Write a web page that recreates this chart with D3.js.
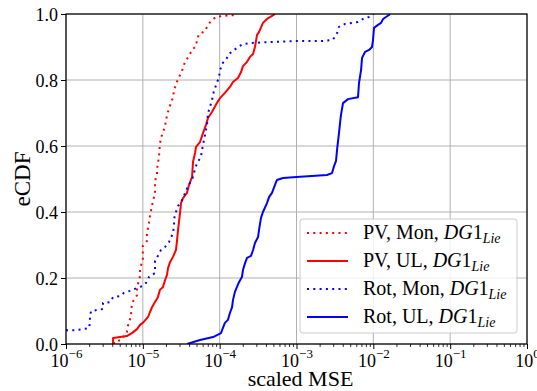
<!DOCTYPE html>
<html>
<head>
<meta charset="utf-8">
<script src="https://cdn.jsdelivr.net/npm/d3@7"></script>
<style>
  body { margin: 0; background: #fff; }
  svg text { font-family: "Liberation Serif", "DejaVu Serif", serif; fill: #000; }
</style>
</head>
<body>
<svg id="chart" width="537" height="391"></svg>
<script>
// eCDF of scaled MSE: [mse, cumulative fraction]
var pvMon = [[4.2e-6,0],[4.2e-6,0.006],[5.2e-6,0.012],[6.2e-6,0.036],[6.4e-6,0.055],[7.0e-6,0.085],[7.2e-6,0.124],
  [8.4e-6,0.148],[8.4e-6,0.170],[9.2e-6,0.206],[9.2e-6,0.227],[1.0e-5,0.258],[1.0e-5,0.297],[1.13e-5,0.312],
  [1.13e-5,0.333],[1.2e-5,0.367],[1.24e-5,0.388],[1.32e-5,0.421],[1.44e-5,0.458],[1.44e-5,0.494],[1.53e-5,0.515],
  [1.53e-5,0.530],[1.62e-5,0.567],[1.67e-5,0.606],[1.72e-5,0.624],[1.83e-5,0.642],[1.95e-5,0.661],[2.0e-5,0.679],
  [2.19e-5,0.715],[2.33e-5,0.730],[2.47e-5,0.748],[2.55e-5,0.770],[2.87e-5,0.803],[3.14e-5,0.821],[3.33e-5,0.836],
  [3.54e-5,0.855],[3.99e-5,0.873],[4.37e-5,0.891],[4.92e-5,0.903],[5.07e-5,0.921],[5.38e-5,0.939],[6.44e-5,0.948],
  [6.84e-5,0.961],[7.7e-5,0.979],[8.96e-5,0.991],[1.07e-4,0.994],[1.63e-4,0.997],[1.7e-4,1.0]];

var pvUL = [[4.1e-6,0],[4.1e-6,0.018],[6.2e-6,0.024],[7.2e-6,0.033],[8.4e-6,0.045],[9.2e-6,0.058],[1.0e-5,0.064],
  [1.17e-5,0.082],[1.24e-5,0.097],[1.32e-5,0.112],[1.44e-5,0.127],[1.57e-5,0.142],[1.67e-5,0.164],[1.83e-5,0.173],
  [1.95e-5,0.194],[2.06e-5,0.209],[2.13e-5,0.230],[2.26e-5,0.248],[2.47e-5,0.264],[2.70e-5,0.285],[2.79e-5,0.315],
  [2.87e-5,0.345],[3.05e-5,0.397],[3.14e-5,0.427],[3.33e-5,0.442],[3.76e-5,0.458],[3.99e-5,0.482],[4.37e-5,0.506],
  [4.5e-5,0.552],[4.78e-5,0.579],[4.92e-5,0.597],[5.55e-5,0.612],[6.07e-5,0.639],[6.64e-5,0.664],[7.05e-5,0.685],
  [7.94e-5,0.703],[9.2e-5,0.730],[1.01e-4,0.745],[1.17e-4,0.761],[1.36e-4,0.779],[1.49e-4,0.794],[1.73e-4,0.806],
  [1.90e-4,0.824],[2.01e-4,0.842],[2.27e-4,0.855],[2.48e-4,0.870],[2.72e-4,0.879],[2.88e-4,0.900],[3.06e-4,0.936],
  [3.25e-4,0.945],[3.66e-4,0.973],[4.13e-4,0.985],[4.80e-4,0.994],[5.25e-4,1.0]];

var rotMon = [[1.0e-6,0.042],[1.35e-6,0.042],[1.62e-6,0.045],[1.99e-6,0.048],[2.05e-6,0.064],[2.05e-6,0.082],
  [2.12e-6,0.100],[2.53e-6,0.103],[3.03e-6,0.106],[3.03e-6,0.124],[3.74e-6,0.127],[4.09e-6,0.142],[5.05e-6,0.145],
  [5.69e-6,0.155],[6.81e-6,0.161],[8.4e-6,0.170],[1.0e-5,0.176],[1.13e-5,0.188],[1.2e-5,0.203],[1.44e-5,0.215],
  [1.44e-5,0.252],[1.57e-5,0.267],[1.72e-5,0.285],[1.95e-5,0.294],[2.19e-5,0.309],[2.47e-5,0.336],[2.55e-5,0.361],
  [2.55e-5,0.379],[2.70e-5,0.400],[2.87e-5,0.418],[3.24e-5,0.436],[3.65e-5,0.464],[3.87e-5,0.479],[4.37e-5,0.497],
  [4.78e-5,0.530],[5.07e-5,0.548],[5.71e-5,0.567],[5.89e-5,0.588],[6.25e-5,0.618],[6.64e-5,0.648],[6.84e-5,0.664],
  [7.05e-5,0.700],[7.48e-5,0.718],[7.94e-5,0.739],[8.43e-5,0.767],[9.2e-5,0.791],[9.8e-5,0.809],[1.01e-4,0.830],
  [1.10e-4,0.852],[1.21e-4,0.861],[1.32e-4,0.879],[1.49e-4,0.888],[1.73e-4,0.900],[2.01e-4,0.909],[2.48e-4,0.912],
  [4.52e-4,0.915],[1.0e-3,0.918],[2.15e-3,0.918],[2.9e-3,0.921],[3.08e-3,0.927],[3.37e-3,0.942],[3.57e-3,0.961],
  [4.28e-3,0.970],[5.27e-3,0.973],[6.32e-3,0.976],[7.35e-3,0.985],[8.79e-3,0.991],[9.9e-3,0.997],[1.0e-2,1.0]];

var rotUL = [[3.76e-5,0],[5.55e-5,0.012],[8.2e-5,0.021],[1.04e-4,0.033],[1.10e-4,0.048],[1.17e-4,0.064],
  [1.28e-4,0.073],[1.36e-4,0.094],[1.45e-4,0.112],[1.49e-4,0.133],[1.58e-4,0.158],[1.68e-4,0.173],[1.79e-4,0.188],
  [1.95e-4,0.203],[2.01e-4,0.224],[2.14e-4,0.245],[2.27e-4,0.261],[2.56e-4,0.267],[2.72e-4,0.285],[2.88e-4,0.306],
  [3.16e-4,0.324],[3.25e-4,0.345],[3.45e-4,0.382],[3.66e-4,0.400],[4.13e-4,0.427],[4.39e-4,0.445],[4.80e-4,0.458],
  [5.25e-4,0.482],[5.57e-4,0.497],[6.67e-4,0.503],[1.0e-3,0.506],[2.49e-3,0.512],[2.9e-3,0.518],[3.08e-3,0.539],
  [3.27e-3,0.555],[3.37e-3,0.588],[3.57e-3,0.639],[3.79e-3,0.694],[4.03e-3,0.730],[4.68e-3,0.742],[6.32e-3,0.748],
  [6.51e-3,0.791],[6.92e-3,0.830],[7.13e-3,0.867],[7.80e-3,0.885],[8.79e-3,0.891],[9.62e-3,0.900],[9.9e-3,0.921],
  [1.02e-2,0.958],[1.15e-2,0.967],[1.26e-2,0.973],[1.34e-2,0.985],[1.46e-2,0.991],[1.60e-2,0.997],[1.64e-2,1.0]];

var seriesNames = ["PV, Mon, ", "PV, UL, ", "Rot, Mon, ", "Rot, UL, "];
var seriesColors = ["#ff0000", "#ff0000", "#0000ff", "#0000ff"];
var seriesDotted = [true, false, true, false];
var xTicks = [1e-6, 1e-5, 1e-4, 1e-3, 1e-2, 1e-1, 1e0];
var yTicks = [0, 0.2, 0.4, 0.6, 0.8, 1.0];

var allSeries = [pvMon, pvUL, rotMon, rotUL];

var svg = d3.select("#chart");
var margin = {left: 66, right: 10, top: 14, bottom: 47};
var width = 537 - margin.left - margin.right;
var height = 391 - margin.top - margin.bottom;

var x = d3.scaleLog().domain([1e-6, 1]).range([0, width]);
var y = d3.scaleLinear().domain([0, 1]).range([height, 0]);

var g = svg.append("g").attr("transform", `translate(${margin.left},${margin.top})`);

// grid
g.append("g").selectAll("line").data(xTicks).join("line")
  .attr("x1", d => x(d)).attr("x2", d => x(d)).attr("y1", 0).attr("y2", height)
  .attr("stroke", "#b0b0b0").attr("stroke-width", 1);
g.append("g").selectAll("line").data(yTicks).join("line")
  .attr("y1", d => y(d)).attr("y2", d => y(d)).attr("x1", 0).attr("x2", width)
  .attr("stroke", "#b0b0b0").attr("stroke-width", 1);

// curves
g.append("clipPath").attr("id", "clip").append("rect").attr("width", width).attr("height", height);
var line = d3.line().x(d => x(d[0])).y(d => y(d[1]));
g.append("g").attr("clip-path", "url(#clip)").selectAll("path").data(allSeries).join("path")
  .attr("d", line)
  .attr("fill", "none")
  .attr("stroke", (d, i) => seriesColors[i])
  .attr("stroke-width", 2)
  .attr("stroke-linejoin", "round")
  .attr("stroke-dasharray", (d, i) => seriesDotted[i] ? "2,4.3" : null);

// minor x ticks
var minor = [];
xTicks.slice(0, -1).forEach(t => { for (var k = 2; k < 10; k++) minor.push(t * k); });
g.append("g").attr("transform", `translate(0,${height})`)
  .call(d3.axisBottom(x).tickValues(minor).tickSize(3).tickFormat(""))
  .call(a => a.select(".domain").remove())
  .call(a => a.selectAll("line").attr("stroke", "#000").attr("stroke-width", 0.8));

// major x axis
var xAxis = g.append("g").attr("transform", `translate(0,${height})`)
  .call(d3.axisBottom(x).tickValues(xTicks).tickSize(5).tickFormat(""));
xAxis.select(".domain").remove();
xAxis.selectAll("line").attr("stroke", "#000").attr("stroke-width", 1);
xAxis.selectAll(".tick").append("text")
  .attr("y", 23).attr("text-anchor", "middle").attr("font-size", 18)
  .each(function(d) {
    var e = Math.round(Math.log10(d));
    var t = d3.select(this);
    t.append("tspan").text("10");
    t.append("tspan").attr("font-size", 13).attr("dy", -9).text(e < 0 ? "\u2212" + (-e) : String(e));
  });

// y axis
var yAxis = g.append("g")
  .call(d3.axisLeft(y).tickValues(yTicks).tickSize(5).tickPadding(3).tickFormat(d3.format(".1f")));
yAxis.select(".domain").remove();
yAxis.selectAll("line").attr("stroke", "#000").attr("stroke-width", 1);
yAxis.selectAll("text").attr("font-size", 18).attr("dy", "0.35em");

// frame
g.append("rect").attr("width", width).attr("height", height)
  .attr("fill", "none").attr("stroke", "#000").attr("stroke-width", 1.2);

// axis labels
svg.append("text").attr("x", margin.left + width / 2 + 4).attr("y", 386)
  .attr("text-anchor", "middle").attr("font-size", 22).text("scaled MSE");
svg.append("text").attr("transform", `translate(30,${margin.top + height / 2}) rotate(-90)`)
  .attr("text-anchor", "middle").attr("font-size", 23).text("eCDF");

// legend
var lg = svg.append("g").attr("transform", "translate(300,219)");
lg.append("rect").attr("width", 217).attr("height", 114).attr("rx", 3)
  .attr("fill", "#fff").attr("fill-opacity", 0.8).attr("stroke", "#cccccc").attr("stroke-width", 1);
var items = lg.selectAll("g.item").data(seriesNames).join("g").attr("class", "item")
  .attr("transform", (d, i) => `translate(0,${14 + i * 28})`);
items.append("line").attr("x1", 7).attr("x2", 48).attr("y1", 0).attr("y2", 0)
  .attr("stroke", (d, i) => seriesColors[i]).attr("stroke-width", 2)
  .attr("stroke-dasharray", (d, i) => seriesDotted[i] ? "2,4.3" : null);
var lt = items.append("text").attr("x", 63).attr("y", 6).attr("font-size", 20);
lt.append("tspan").text(d => d);
lt.append("tspan").attr("font-style", "italic").text("DG");
lt.append("tspan").text("1");
lt.append("tspan").attr("font-style", "italic").attr("font-size", 14).attr("dy", 4).text("Lie");
</script>
</body>
</html>
